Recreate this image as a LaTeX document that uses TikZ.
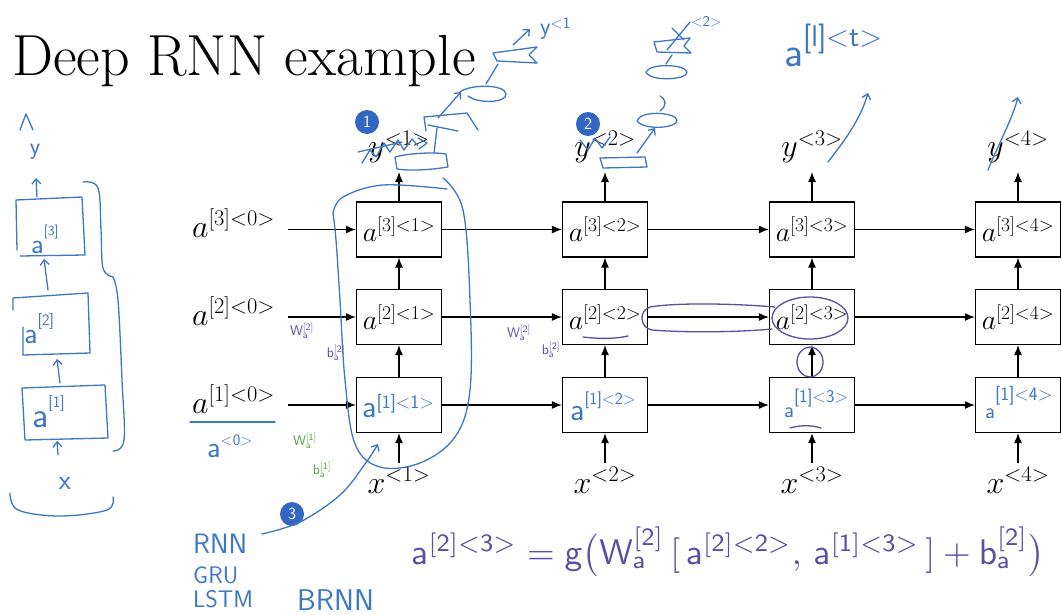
\RequirePackage{fix-cm}
\documentclass[tikz,border=0pt]{standalone}
\usepackage{graphicx}
\usetikzlibrary{arrows.meta,calc}
\definecolor{pen}{HTML}{3C78C3}
\definecolor{ppen}{HTML}{5A4EA6}
\definecolor{gpen}{HTML}{52A03C}
\definecolor{badgec}{HTML}{3366C2}
\newcommand\hwa[4]{{\fontsize{#1}{#1}\selectfont a}\raisebox{#3}{\fontsize{#2}{#2}\selectfont #4}}
\begin{document}
\begin{tikzpicture}[x=1pt,y=-1pt,
  cell/.style={draw,line width=1.2pt,minimum width=85pt,minimum height=55pt,inner sep=0pt,font=\fontsize{28}{32}\selectfont},
  arr/.style={line width=1.2pt,-{Latex[length=10pt,width=8pt]}},
  lab/.style={inner sep=0pt,font=\fontsize{32}{36}\selectfont},
  hw/.style={pen,line width=1.3pt,line cap=round,line join=round},
  hwarr/.style={hw,-{Straight Barb[length=5pt,width=9pt]}},
  hwp/.style={hw,ppen},
  hwt/.style={inner sep=0pt,text=pen,font=\sffamily},
  note/.style={inner sep=0pt,font=\sffamily\fontsize{14}{14}\selectfont},
  badge/.style={circle,fill=badgec,text=white,inner sep=0pt,minimum size=24pt,font=\sffamily\fontsize{17}{17}\selectfont}]
\useasboundingbox[fill=white] (0,0) rectangle (1062,615);

% title
\node[anchor=base west,inner sep=0pt,font=\fontsize{58}{64}\selectfont] (title) at (12,76) {Deep RNN example};

% cells
\foreach \c/\x in {1/399,2/605,3/812,4/1018}{
  \node[cell] (b3\c) at (\x,229.5) {$a^{[3]<\c>}$};
  \node[cell] (b2\c) at (\x,317) {$a^{[2]<\c>}$};
  \node[cell] (b1\c) at (\x,405) {};
  \node[lab,anchor=base] (y\c) at (\x,157) {$y^{<\c>}$};
  \node[lab,anchor=base] (x\c) at (\x,493) {$x^{<\c>}$};
  \coordinate (t\c) at (\x,172);
  \coordinate (u\c) at (\x,463);
  \draw[arr] (u\c) -- (b1\c.south);
  \draw[arr] (b1\c.north) -- (b2\c.south);
  \draw[arr] (b2\c.north) -- (b3\c.south);
  \draw[arr] (b3\c.north) -- (t\c);
}
\foreach \r in {1,2,3}{
  \draw[arr] (b\r1.east) -- (b\r2.west);
  \draw[arr] (b\r2.east) -- (b\r3.west);
  \draw[arr] (b\r3.east) -- (b\r4.west);
}
% initial activations
\node[lab,anchor=base west] (l3) at (192,237) {$a^{[3]<0>}$};
\node[lab,anchor=base west] (l2) at (192,325) {$a^{[2]<0>}$};
\node[lab,anchor=base west] (l1) at (192,413) {$a^{[1]<0>}$};
\coordinate (s3) at (288,229.5);
\coordinate (s2) at (288,317);
\coordinate (s1) at (288,405);
\draw[arr] (s3) -- (b31.west);
\draw[arr] (s2) -- (b21.west);
\draw[arr] (s1) -- (b11.west);

% handwritten labels in bottom row
\node[hwt,anchor=base west] (h1) at (362,417) {\hwa{32}{19}{9pt}{[1]<1>}};
\node[hwt,anchor=base west] (h2) at (570,420) {\hwa{32}{17}{16pt}{[1]<2>}};
\node[hwt,anchor=base west] (h3) at (784,417) {\hwa{22}{18}{15pt}{[1]<3>}};
\node[hwt,anchor=base west] (h4) at (985,418) {\hwa{22}{19}{18pt}{[1]<4>}};

% a<0> under a[1]<0>
\draw[hw] (190,422) -- (275,422);
\node[hwt,anchor=base west] (a0) at (207,457) {\hwa{30}{16}{12pt}{<0>}};

% badges
\node[badge] (n1) at (367,122) {1};
\node[badge] (n2) at (588,124) {2};
\node[badge] (n3) at (292,514) {3};

% loop around column 1
\draw[hw] plot[smooth,tension=0.6] coordinates {(333,213) (343,197) (383,185) (447,189)};
\draw[hw] plot[smooth,tension=0.6] coordinates {(443,178) (463,210) (470,300) (470,390) (455,437) (420,463) (380,467) (355,444) (345,380) (340,300) (336,240) (333,213)};
\draw[hwarr] plot[smooth,tension=0.6] coordinates {(262,534) (300,522) (340,495) (365,464) (378,444)};

% scribbles above column 1
\draw[hw] (362,163) -- (370,150) -- (376,157) -- (384,143) -- (390,152) -- (398,140) -- (404,150) -- (412,139) -- (418,146);
\draw[hw] (358,152) -- (402,142);
\draw[hw] (418,138) -- (427,143) -- (419,149);
\draw[hw] (395,157) .. controls (410,153) and (435,152) .. (446,154) -- (448,167) .. controls (430,170) and (410,171) .. (397,169) -- cycle;
\draw[hw] (434,153) -- (437,128);
\draw[hw] (426,131) -- (424,117) -- (467,113) -- (478,130);
\draw[hw] (428,125) -- (458,131);
\draw[hwarr] (438,118) -- (461,92);
\draw[hw] (460,92) .. controls (470,84) and (505,84) .. (506,94) .. controls (507,103) and (478,104) .. (468,96);
\draw[hw] (486,84) -- (498,64);
\draw[hw] (493,53) -- (537,47) -- (529,55) -- (537,63) -- (497,61) -- cycle;
\draw[hwarr] (513,45) -- (530,29);
\node[hwt,anchor=base west] (yt1) at (540,35) {{\fontsize{24}{24}\selectfont y}\raisebox{6pt}{\fontsize{16}{16}\selectfont <1}};

% scribbles above column 2
\draw[hw] (580,140) -- (588,150) -- (595,138) -- (602,148) -- (610,137);
\draw[hw] (600,158) -- (645,157) -- (647,167) -- (603,168) -- cycle;
\draw[hwarr] (637,153) -- (655,128);
\draw[hw] (637,121) .. controls (640,110) and (675,112) .. (677,120) .. controls (678,128) and (645,131) .. (637,121);
\draw[hw] (660,111) .. controls (668,105) and (665,98) .. (660,96);
\draw[hw] (646,72) .. controls (650,63) and (685,64) .. (687,72) .. controls (688,80) and (650,82) .. (646,72);
\draw[hw] (666,64) -- (672,55);
\draw[hw] (654,42) -- (690,38) -- (684,46) -- (691,53) -- (657,52) -- cycle;
\draw[hw] (667,50) -- (690,22);
\draw[hw] (672,28) -- (684,40);
\node[hwt,anchor=base west,font=\sffamily\fontsize{15}{15}\selectfont] (yt2) at (691,27) {<2>};

% a^[l]<t>
\node[hwt,anchor=base west] (alt) at (784,67) {\hwa{42}{30}{20pt}{[l]<t>}};
\draw[hwarr] (828,162) .. controls (845,140) and (860,120) .. (868,93);
\draw[hwarr] (988,170) .. controls (998,145) and (1012,120) .. (1018,97);

% purple annotations
\draw[hwp] (775,307) .. controls (740,304) and (680,302) .. (650,307) .. controls (638,311) and (640,328) .. (652,330) .. controls (690,333) and (740,332) .. (772,329);
\draw[hwp] (810,318) ellipse [x radius=38, y radius=21];
\draw[hwp] (810,362) ellipse [x radius=13, y radius=15];
\draw[hwp] (583,337) .. controls (600,339) and (615,339) .. (628,336);
\draw[hwp] (790,428) .. controls (800,425) and (812,425) .. (821,428);
\node[note,text=ppen] (w2a) at (302,331) {W$_{\mathsf{a}}^{\mathsf{[2]}}$};
\node[note,text=ppen] (b2a) at (336,353) {b$_{\mathsf{a}}^{\mathsf{[2]}}$};
\node[note,text=ppen] (w2b) at (519,333) {W$_{\mathsf{a}}^{\mathsf{[2]}}$};
\node[note,text=ppen] (b2b) at (551,350) {b$_{\mathsf{a}}^{\mathsf{[2]}}$};
% green annotations
\node[note,text=gpen] (w1) at (305,441) {W$_{\mathsf{a}}^{\mathsf{[1]}}$};
\node[note,text=gpen] (b1) at (322,470) {b$_{\mathsf{a}}^{\mathsf{[1]}}$};

% left sketch
\draw[hw] (20,130) -- (26,114) -- (33,130);
\node[hwt,font=\sffamily\fontsize{24}{24}\selectfont] (ly) at (35,152) {y};
\draw[hwarr] (37,197) -- (36,178);
\draw[hw] (17,250) -- (16,200) -- (82,197) -- (85,255) -- (20,256);
\node[hwt,anchor=base west] (la3) at (31,253) {\hwa{28}{14}{18pt}{[3]}};
\draw[hwarr] (48,290) -- (44,259);
\draw[hw] (23,327) -- (23,355) -- (90,353) -- (88,293) -- (13,298) -- (13,310);
\node[hwt,anchor=base west] (la2) at (24,343) {\hwa{30}{16}{18pt}{[2]}};
\draw[hwarr] (60,383) -- (57,359);
\draw[hw] (25,440) -- (22,388) -- (105,385) -- (108,438) -- cycle;
\node[hwt,anchor=base west] (la1) at (32,427) {\hwa{36}{16}{20pt}{[1]}};
\draw[hwarr] (58,455) -- (57,441);
\node[hwt,font=\sffamily\fontsize{28}{28}\selectfont] (lx) at (65,483) {x};
\draw[hw] plot[smooth,tension=0.6] coordinates {(10,493) (18,510) (60,516) (107,510) (113,497)};
\draw[hw] plot[smooth,tension=0.6] coordinates {(83,182) (98,188) (101,230) (103,268) (113,277)};
\draw[hw] plot[smooth,tension=0.6] coordinates {(113,277) (118,300) (122,380) (124,440) (113,451)};

% bottom handwriting
\node[hwt,anchor=base west,font=\sffamily\fontsize{28}{28}\selectfont] (rnn) at (193,553) {RNN};
\node[hwt,anchor=base west,font=\sffamily\fontsize{24}{24}\selectfont] (gru) at (193,583) {GRU};
\node[hwt,anchor=base west,font=\sffamily\fontsize{24}{24}\selectfont] (lstm) at (193,607) {LSTM};
\node[hwt,anchor=base west,font=\sffamily\fontsize{30}{30}\selectfont] (brnn) at (297,610) {BRNN};
\node[inner sep=0pt,text=ppen] (eq) at (728,552) {\resizebox{633pt}{!}{$\mathsf{a}^{\mathsf{[2]<3>}}=\mathsf{g}\bigl(\mathsf{W}_{\mathsf{a}}^{\mathsf{[2]}}\,[\,\mathsf{a}^{\mathsf{[2]<2>}},\,\mathsf{a}^{\mathsf{[1]<3>}}\,]+\mathsf{b}_{\mathsf{a}}^{\mathsf{[2]}}\bigr)$}};
\end{tikzpicture}
\end{document}
